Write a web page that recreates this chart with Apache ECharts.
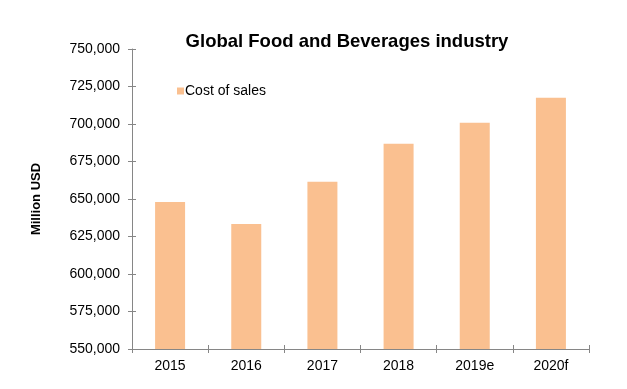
<!DOCTYPE html>
<html><head><meta charset="utf-8">
<script src="https://cdn.jsdelivr.net/npm/echarts@6/dist/echarts.min.js"></script>
<style>html,body{margin:0;padding:0;background:#fff}#c{width:627px;height:389px}</style>
</head><body><div id="c"></div>
<script>
const categories = ['2015', '2016', '2017', '2018', '2019e', '2020f'];
const costOfSales = [648000, 633300, 661500, 686800, 700800, 717500];
const seriesName = 'Cost of sales';
const chartTitle = 'Global Food and Beverages industry';
const yAxisName = 'Million USD';

const font = 'Liberation Sans, Arial, sans-serif';
const axisColor = '#868686';
const chart = echarts.init(document.getElementById('c'));
chart.setOption({
  animation: false,
  backgroundColor: '#fff',
  title: {
    text: chartTitle,
    left: 342, top: 27, textAlign: 'center',
    textStyle: {fontFamily: font, fontSize: 18.5, fontWeight: 'bold', color: '#000'}
  },
  legend: {
    data: [seriesName],
    left: 172, top: 79,
    itemWidth: 7, itemHeight: 7, itemGap: 4,
    icon: 'rect',
    textStyle: {fontFamily: font, fontSize: 14, color: '#000', padding: [0, 0, 0, -4]}
  },
  grid: {left: 132, right: 38, top: 49, bottom: 40, containLabel: false},
  xAxis: [{
    type: 'category', data: categories,
    axisLine: {lineStyle: {color: axisColor, width: 1}},
    axisTick: {show: true, length: 4, lineStyle: {color: axisColor}},
    axisLabel: {fontFamily: font, fontSize: 14, color: '#000', margin: 10}
  }, {
    type: 'category', data: categories, position: 'bottom',
    axisLine: {show: false},
    axisTick: {show: true, inside: true, length: 4, lineStyle: {color: axisColor}},
    axisLabel: {show: false}
  }],
  yAxis: [{
    type: 'value', min: 550000, max: 750000, interval: 25000,
    name: yAxisName, nameLocation: 'middle', nameGap: 89, nameRotate: 90,
    nameTextStyle: {fontFamily: font, fontSize: 13, fontWeight: 'bold', color: '#000'},
    axisLine: {show: true, lineStyle: {color: axisColor}},
    axisTick: {show: true, length: 4, lineStyle: {color: axisColor}},
    splitLine: {show: false},
    axisLabel: {fontFamily: font, fontSize: 14, color: '#000', margin: 12,
      formatter: v => v.toLocaleString('en-US')}
  }, {
    type: 'value', min: 550000, max: 750000, interval: 25000, position: 'left',
    axisLine: {show: false},
    axisTick: {show: true, inside: true, length: 4, lineStyle: {color: axisColor}},
    splitLine: {show: false},
    axisLabel: {show: false}
  }],
  series: [{
    name: seriesName, type: 'bar', data: costOfSales,
    barWidth: 30,
    itemStyle: {color: '#FAC090'}
  }]
});
</script></body></html>
